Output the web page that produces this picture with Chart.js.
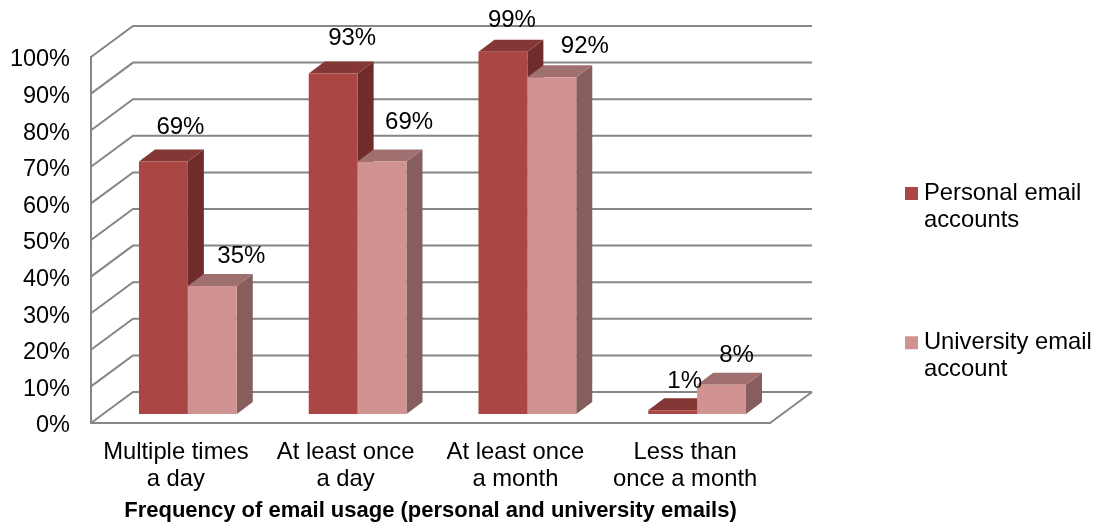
<!DOCTYPE html>
<html>
<head>
<meta charset="utf-8">
<title>Frequency of email usage</title>
<script src="https://cdn.jsdelivr.net/npm/chart.js@4/dist/chart.umd.min.js"></script>
<style>
html, body { margin: 0; padding: 0; background: #fff; }
canvas { display: block; }
</style>
</head>
<body>
<canvas id="emailChart" width="1096" height="528"></canvas>
<script>
var categories = [['Multiple times', 'a day'], ['At least once', 'a day'], ['At least once', 'a month'], ['Less than', 'once a month']];
var personalValues = [69, 93, 99, 1];
var universityValues = [35, 69, 92, 8];
var seriesNames = [['Personal email', 'accounts'], ['University email', 'account']];
var axisTitle = 'Frequency of email usage (personal and university emails)';

var gridColor = '#868686';
var fontFamily = '"Liberation Sans", Arial, sans-serif';

// floor/wall depth of the box, and where the bars sit inside it
var wallDx = 42, wallDy = 31;
var barShiftX = 12, barShiftY = 9;
var barDx = 16, barDy = 12;

// hand placed value labels, relative to the top centre of each bar
var labelNudge = [
    [[17, -36], [19, -37], [9, -33], [12, -31]],
    [[29, -32], [27, -41], [33, -33], [15, -31]]
];

var faceColors = [
    { top: '#853735', side: '#6f2c2a' },
    { top: '#a07070', side: '#855e5d' }
];

function fillPoly(ctx, pts, color) {
    ctx.beginPath();
    ctx.moveTo(pts[0][0], pts[0][1]);
    for (var i = 1; i < pts.length; i++) ctx.lineTo(pts[i][0], pts[i][1]);
    ctx.closePath();
    ctx.fillStyle = color;
    ctx.fill();
}

var box3d = {
    id: 'box3d',
    // the legend sits further right and lower than its layout box
    afterLayout: function(chart) {
        chart.legend.left = 816;
        chart.legend.right = 1096;
        chart.legend.top = 86.5;
    },
    beforeDatasetsDraw: function(chart) {
        var ctx = chart.ctx, area = chart.chartArea, y = chart.scales.y;

        // walls: a line on the back wall plus a diagonal to the front for each tick
        ctx.save();
        ctx.strokeStyle = gridColor;
        ctx.lineWidth = 2;
        y.ticks.forEach(function(t) {
            var py = y.getPixelForValue(t.value);
            ctx.beginPath();
            ctx.moveTo(area.left, py);
            ctx.lineTo(area.left + wallDx, py - wallDy);
            ctx.lineTo(area.right + wallDx, py - wallDy);
            ctx.stroke();
        });
        var floorY = y.getPixelForValue(0);
        ctx.beginPath();
        ctx.moveTo(area.right, floorY);
        ctx.lineTo(area.right + wallDx, floorY - wallDy);
        ctx.stroke();
        ctx.restore();

        // bars, personal first so the university bar covers its side face
        ctx.save();
        ctx.translate(barShiftX, -barShiftY);
        [0, 1].forEach(function(d) {
            chart.getDatasetMeta(d).data.forEach(function(bar) {
                var x0 = bar.x - bar.width / 2, x1 = bar.x + bar.width / 2;
                fillPoly(ctx, [[x1, bar.y], [x1 + barDx, bar.y - barDy], [x1 + barDx, bar.base - barDy], [x1, bar.base]], faceColors[d].side);
                fillPoly(ctx, [[x0, bar.y], [x1, bar.y], [x1 + barDx, bar.y - barDy], [x0 + barDx, bar.y - barDy]], faceColors[d].top);
                bar.draw(ctx);
            });
        });
        ctx.restore();

        // value labels
        ctx.save();
        ctx.font = '24px ' + fontFamily;
        ctx.fillStyle = '#000';
        ctx.textAlign = 'center';
        ctx.textBaseline = 'middle';
        [0, 1].forEach(function(d) {
            var values = chart.data.datasets[d].data;
            chart.getDatasetMeta(d).data.forEach(function(bar, i) {
                var n = labelNudge[d][i];
                ctx.fillText(values[i] + '%', bar.x + barShiftX + n[0], bar.y - barShiftY + n[1] + 2);
            });
        });
        ctx.restore();

        return false;
    }
};

new Chart(document.getElementById('emailChart'), {
    type: 'bar',
    plugins: [box3d],
    data: {
        labels: categories,
        datasets: [
            { label: seriesNames[0], data: personalValues, backgroundColor: '#aa4643' },
            { label: seriesNames[1], data: universityValues, backgroundColor: '#d19392' }
        ]
    },
    options: {
        responsive: false,
        animation: false,
        barPercentage: 1,
        categoryPercentage: 0.576,
        layout: { padding: { top: 57, left: 0, right: 144, bottom: 0 } },
        plugins: {
            tooltip: { enabled: false },
            legend: {
                position: 'right',
                align: 'start',
                maxWidth: 182,
                labels: {
                    usePointStyle: true,
                    pointStyle: 'rect',
                    boxWidth: 1,
                    boxHeight: 13,
                    padding: 95,
                    color: '#000',
                    font: { family: fontFamily, size: 23.8, lineHeight: 1.14 }
                }
            }
        },
        scales: {
            x: {
                grid: { display: false, drawTicks: false },
                border: { color: gridColor, width: 2 },
                ticks: {
                    color: '#000',
                    maxRotation: 0,
                    autoSkip: false,
                    padding: 16,
                    font: { family: fontFamily, size: 23.8, lineHeight: 1.14 }
                },
                title: {
                    display: true,
                    text: axisTitle,
                    color: '#000',
                    font: { family: fontFamily, size: 22, weight: 'bold' },
                    padding: { top: 0, bottom: 4 }
                },
                afterFit: function(scale) { scale.height = 105; }
            },
            y: {
                min: 0,
                max: 100,
                grid: { display: false, drawTicks: false },
                border: { color: gridColor, width: 2 },
                ticks: {
                    stepSize: 10,
                    color: '#000',
                    padding: 21,
                    labelOffset: 3,
                    autoSkip: false,
                    font: { family: fontFamily, size: 23.5 },
                    callback: function(v) { return v + '%'; }
                },
                afterFit: function(scale) { scale.width = 91; }
            }
        }
    }
});
</script>
</body>
</html>
